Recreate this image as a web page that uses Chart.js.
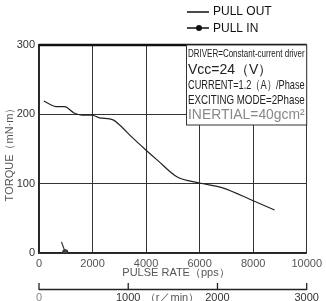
<!DOCTYPE html>
<html>
<head>
<meta charset="utf-8">
<script src="https://cdn.jsdelivr.net/npm/chart.js@4"></script>
<style>
  html, body { margin: 0; padding: 0; background: #fff; overflow: hidden; }
  #torqueChart { display: block; }
</style>
</head>
<body>
<canvas id="torqueChart" width="326" height="301"></canvas>
<script>
// data
const pulseRate = [180, 690, 950, 1310, 1600, 1970, 2260, 2770, 3000, 3500, 3980, 4420, 5150, 5990, 6860, 7960, 8800];
const pullOut = [219, 211, 211, 202, 199, 199, 195, 192, 185, 166, 149, 134, 110, 101, 94, 76, 62];
const pullInRate = [840, 980];
const pullIn = [16, 1];
const pulseTicks = [0, 2000, 4000, 6000, 8000, 10000];
const torqueTicks = [0, 100, 200, 300];
const rpmTicks = [0, 1000, 2000, 3000];
const infoLines = [
    'DRIVER=Constant-current driver',
    'Vcc=24（V）',
    'CURRENT=1.2（A）/Phase',
    'EXCITING MODE=2Phase',
    'INERTIAL=40gcm²'
];

const FONT = '"Liberation Sans", Arial, sans-serif';

const fitText = (ctx, text, x, y, maxW) => {
    const w = ctx.measureText(text).width;
    if (w > maxW) {
        ctx.save();
        ctx.translate(x, y);
        ctx.scale(maxW / w, 1);
        ctx.fillText(text, 0, 0);
        ctx.restore();
    } else {
        ctx.fillText(text, x, y);
    }
};

const extras = {
    id: 'extras',
    afterDraw(chart) {
        const ctx = chart.ctx;
        const area = chart.chartArea;
        const xs = chart.scales.x;
        ctx.save();

        // thick top frame
        ctx.strokeStyle = '#111';
        ctx.lineWidth = 2.5;
        ctx.beginPath();
        ctx.moveTo(area.left, area.top);
        ctx.lineTo(area.right, area.top);
        ctx.stroke();

        // legend
        ctx.lineWidth = 1.3;
        ctx.beginPath();
        ctx.moveTo(187, 12); ctx.lineTo(209, 12);
        ctx.moveTo(187, 28); ctx.lineTo(209, 28);
        ctx.stroke();
        ctx.fillStyle = '#111';
        ctx.beginPath();
        ctx.arc(199, 28, 3, 0, Math.PI * 2);
        ctx.fill();
        ctx.font = '12px ' + FONT;
        ctx.textBaseline = 'middle';
        ctx.textAlign = 'left';
        ctx.fillText('PULL OUT', 213, 12);
        ctx.fillText('PULL IN', 213, 29);

        // info box
        const bx = 186, by = area.top, bw = area.right - bx, bh = 80;
        ctx.fillStyle = '#fff';
        ctx.fillRect(bx, by, bw, bh);
        ctx.strokeStyle = '#333';
        ctx.lineWidth = 1;
        ctx.strokeRect(bx + 0.5, by, bw - 0.5, bh);
        const lineY = [54, 70, 85, 100, 115];
        const sizes = [11, 14, 13, 13, 14];
        infoLines.forEach((t, i) => {
            ctx.font = sizes[i] + 'px ' + FONT;
            ctx.fillStyle = i === 4 ? '#888' : '#222';
            fitText(ctx, t, bx + 2, lineY[i], bw - 4);
        });

        // axis titles
        ctx.fillStyle = '#555';
        ctx.font = '11px ' + FONT;
        ctx.textAlign = 'center';
        ctx.fillText('PULSE RATE（pps）', 176, 273);
        ctx.save();
        ctx.translate(10, 152);
        ctx.rotate(-Math.PI / 2);
        ctx.fillText('TORQUE（mN·m）', 0, 0);
        ctx.restore();

        // rpm axis
        ctx.strokeStyle = '#222';
        ctx.lineWidth = 1.3;
        ctx.beginPath();
        ctx.moveTo(area.left, 289.5);
        ctx.lineTo(area.right, 289.5);
        rpmTicks.forEach(r => {
            const px = xs.getPixelForValue(r * 10000 / 3000);
            ctx.moveTo(px, 283);
            ctx.lineTo(px, 290);
        });
        ctx.stroke();
        ctx.font = '11px ' + FONT;
        rpmTicks.forEach(r => {
            const px = xs.getPixelForValue(r * 10000 / 3000);
            ctx.fillStyle = r === 0 ? '#888' : '#333';
            ctx.fillText(String(r), px, 298);
        });
        ctx.fillStyle = '#555';
        ctx.fillText('（r／min）', 172, 298);

        ctx.restore();
    }
};

new Chart(document.getElementById('torqueChart'), {
    type: 'line',
    data: {
        datasets: [
            {
                label: 'PULL OUT',
                data: pulseRate.map((x, i) => ({ x: x, y: pullOut[i] })),
                borderColor: '#222',
                borderWidth: 1.2,
                pointRadius: 0,
                cubicInterpolationMode: 'monotone',
                fill: false
            },
            {
                label: 'PULL IN',
                data: pullInRate.map((x, i) => ({ x: x, y: pullIn[i] })),
                borderColor: '#333',
                backgroundColor: '#444',
                borderWidth: 1.2,
                pointRadius: [0, 2.5],
                fill: false
            }
        ]
    },
    options: {
        responsive: false,
        animation: false,
        devicePixelRatio: 1,
        layout: { padding: { top: 45, right: 13, left: 0, bottom: 0 } },
        plugins: { legend: { display: false }, tooltip: { enabled: false } },
        scales: {
            x: {
                type: 'linear',
                min: 0,
                max: 10000,
                afterBuildTicks: (s) => { s.ticks = pulseTicks.map(v => ({ value: v })); },
                afterFit: (s) => { s.height = 48; },
                grid: { color: '#333', lineWidth: 1, drawTicks: false },
                border: { color: '#222', width: 1.3 },
                ticks: {
                    padding: 4, color: '#555', font: { family: FONT, size: 11 }, maxRotation: 0,
                    callback: (v) => String(v)
                }
            },
            y: {
                min: 0,
                max: 300,
                afterBuildTicks: (s) => { s.ticks = torqueTicks.map(v => ({ value: v })); },
                afterFit: (s) => { s.width = 39; },
                grid: { color: '#333', lineWidth: 1, drawTicks: false },
                border: { color: '#222', width: 1.3 },
                ticks: { padding: 4, color: '#333', font: { family: FONT, size: 11 }, callback: (v) => String(v) }
            }
        }
    },
    plugins: [extras]
});
</script>
</body>
</html>
